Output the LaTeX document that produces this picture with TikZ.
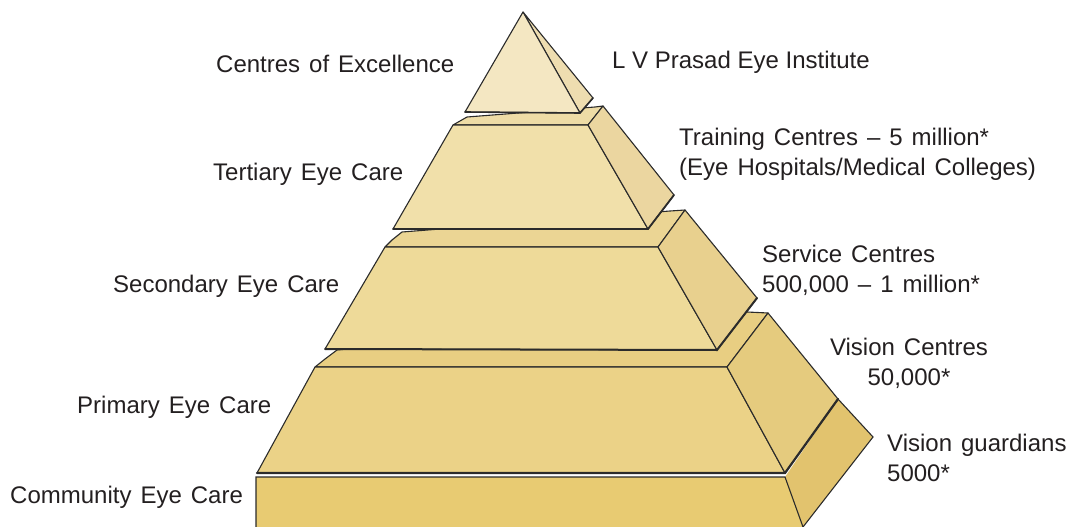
\documentclass[tikz,border=0pt]{standalone}
\usepackage{fontspec}
\setmainfont{Liberation Sans}[WordSpace=1.35]
\newfontfamily\tightfont{Liberation Sans}[WordSpace=1.0]
\definecolor{ink}{HTML}{231F20}
\definecolor{edge}{HTML}{2B2B2B}
\definecolor{fA}{HTML}{F4E7C2}\definecolor{sA}{HTML}{EEDDB0}
\definecolor{fB}{HTML}{F1E0AA}\definecolor{sB}{HTML}{EBD6A0}\definecolor{tB}{HTML}{EEDCA6}
\definecolor{fC}{HTML}{EEDA99}\definecolor{sC}{HTML}{E8D08E}\definecolor{tC}{HTML}{EBD594}
\definecolor{fD}{HTML}{EBD287}\definecolor{sD}{HTML}{E5CB7E}\definecolor{tD}{HTML}{E8CE82}
\definecolor{fE}{HTML}{E8CB72}\definecolor{sE}{HTML}{E2C36E}
\tikzset{
  face/.style={draw=edge, line width=1.1pt, line join=round},
  label/.style={font=\fontsize{24}{30}\selectfont, text=ink, inner sep=0pt},
}
\begin{document}
\begin{tikzpicture}[x=1pt,y=-1pt]
\useasboundingbox (0,0) rectangle (1077,527);
% tier 5: community
\fill[fE] (256,477) -- (785,477) -- (803,527) -- (256,527) -- cycle;
\fill[sE] (785,477) -- (838,399) -- (873,437) -- (803,527) -- cycle;
\draw[edge, line width=1.1pt] (256,527) -- (256,477) -- (785,477) -- (803,527);
\draw[edge, line width=1.1pt] (838,399) -- (873,437) -- (803,527);
% tier 4: primary
\path[face, fill=tD] (315,367) -- (325,359) -- (337,350) -- (747,312) -- (768,313) -- (727,367) -- cycle;
\path[face, fill=fD] (315,367) -- (727,367) -- (785,473) -- (257,473) -- cycle;
\path[face, fill=sD] (727,367) -- (768,313) -- (838,399) -- (785,473) -- cycle;
\draw[edge, line width=2.2pt, line cap=round] (257,473) -- (785,473) -- (838,399);
% tier 3: secondary
\path[face, fill=tC] (385,247) -- (392,240) -- (402,232) -- (670,211) -- (685,210) -- (658,247) -- cycle;
\path[face, fill=fC] (385,247) -- (658,247) -- (717,350) -- (325,349) -- cycle;
\path[face, fill=sC] (658,247) -- (685,210) -- (757,298) -- (717,350) -- cycle;
\draw[edge, line width=2pt, line cap=round] (325,349) -- (717,350) -- (757,298);
% tier 2: tertiary
\path[face, fill=tB] (453,125) -- (467,117) -- (595,107) -- (603,106) -- (588,125) -- cycle;
\path[face, fill=fB] (453,125) -- (588,125) -- (648,229) -- (393,229) -- cycle;
\path[face, fill=sB] (588,125) -- (603,106) -- (674,195) -- (648,229) -- cycle;
\draw[edge, line width=1.8pt, line cap=round] (393,229) -- (648,229) -- (674,195);
% tier 1: excellence
\path[face, fill=sA] (523,12) -- (593,98) -- (580,113) -- cycle;
\path[face, fill=fA] (523,12) -- (580,113) -- (465,112) -- cycle;
\draw[edge, line width=1.6pt, line cap=round] (465,112) -- (580,113) -- (593,98);
% labels
\node[label, anchor=base west] (coe) at (216,73) {Centres of Excellence};
\node[label, anchor=base west, font=\fontsize{24}{30}\tightfont] (lvp) at (612,69) {L V Prasad Eye Institute};
\node[label, anchor=base west, align=left] (trc) at (679,175) {Training Centres -- 5 million*\\(Eye Hospitals/Medical Colleges)};
\node[label, anchor=base west] (tec) at (213,180) {Tertiary Eye Care};
\node[label, anchor=base west, align=left] (svc) at (762,292) {Service Centres\\500,000 -- 1 million*};
\node[label, anchor=base west] (sec) at (113,292) {Secondary Eye Care};
\node[label, anchor=base, align=center] (vic) at (909,385) {Vision Centres\\50,000*};
\node[label, anchor=base west] (pec) at (77,413) {Primary Eye Care};
\node[label, anchor=base west, align=left] (vig) at (887,481) {Vision guardians\\5000*};
\node[label, anchor=base west] (cec) at (10,503) {Community Eye Care};
\end{tikzpicture}
\end{document}
